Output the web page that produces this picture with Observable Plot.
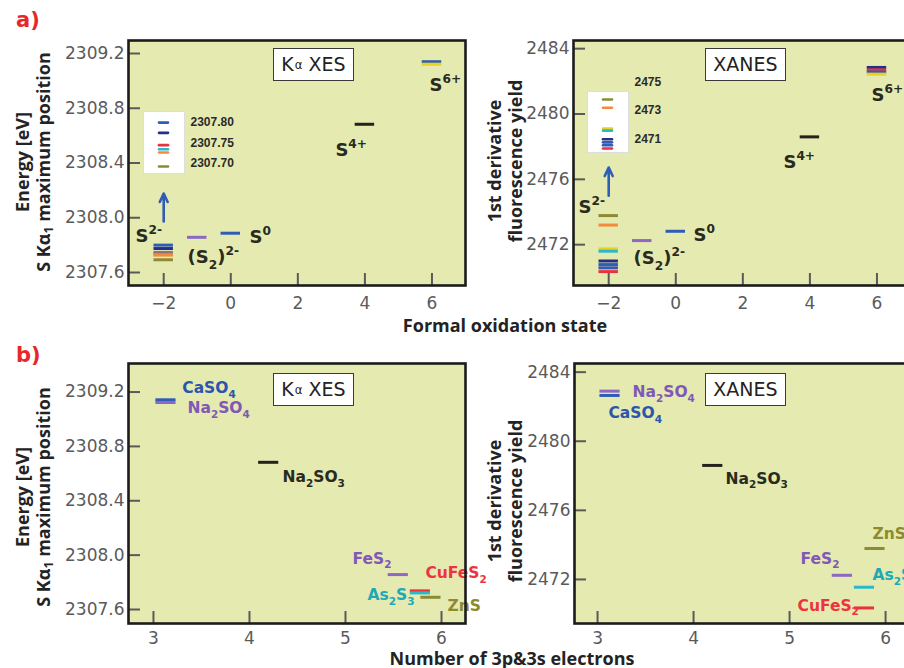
<!DOCTYPE html>
<html>
<head>
<meta charset="utf-8">
<script src="https://cdn.jsdelivr.net/npm/d3@7"></script>
<script src="https://cdn.jsdelivr.net/npm/@observablehq/plot@0.6"></script>
<style>
  html, body { margin: 0; padding: 0; background: #fff; overflow: hidden; }
  #fig { position: relative; width: 904px; height: 668px; overflow: hidden; background: #fff; }
  #fig svg { position: absolute; }
  .ttl { position: absolute; white-space: nowrap; font-family: "Open Sans", "DejaVu Sans", sans-serif; font-weight: 700; color: #232323; font-size: 18px; }
  .ttl sub { font-size: 68%; vertical-align: -0.25em; line-height: 0; }
  .box { position: absolute; box-sizing: border-box; background: #fff; border: 1.6px solid #3a3a3a;
         display: flex; align-items: center; justify-content: center;
         font-family: "DejaVu Sans", sans-serif; font-size: 19px; color: #222; line-height: 1; }
  .box sub { font-size: 62%; vertical-align: -0.35em; line-height: 0; margin-left: 1px; }
  .tag { position: absolute; font-family: "DejaVu Sans", sans-serif; font-weight: 700; font-size: 21px; color: #e8272a; }
</style>
</head>
<body>
<div id="fig"></div>
<script>
// ---------- data ----------
// a) Kα XES: formal oxidation state vs. S Kα1 maximum position (eV)
const xesOx     = [-2, -2, -2, -2, -2, -2, -1, 0, 4, 6, 6];
const xesEnergy = [2307.800, 2307.775, 2307.745, 2307.735, 2307.727, 2307.693, 2307.857, 2307.887, 2308.683, 2309.140, 2309.122];
const xesSample = ["blue", "navy", "red", "cyan", "orange", "olive", "purple", "blue", "black", "blue", "yellow"];

// a) XANES: formal oxidation state vs. 1st-derivative maximum (eV)
const xanesOx   = [-2, -2, -2, -2, -2, -2, -2, -2, -1, 0, 4, 6, 6, 6, 6];
const xanesEdge = [2473.78, 2473.20, 2471.74, 2471.60, 2471.00, 2470.78, 2470.58, 2470.35, 2472.25, 2472.82, 2478.60, 2482.85, 2482.70, 2482.57, 2482.44];
const xanesSample = ["olive", "orange", "yellow", "cyan", "navy", "blue", "blue", "red", "purple", "blue", "black", "navy", "red", "blue", "yellow"];

// b) reference compounds vs. number of 3p & 3s electrons
const compounds  = ["CaSO_4", "Na_2SO_4", "Na_2SO_3", "FeS_2", "CuFeS_2", "As_2S_3", "ZnS"];
const compoundKey = ["blue", "purple", "black", "purple", "red", "cyan", "olive"];
const electrons  = [3.13, 3.13, 4.20, 5.55, 5.78, 5.78, 5.89];
const xesB       = [2309.143, 2309.123, 2308.683, 2307.857, 2307.737, 2307.722, 2307.690];
const xanesB     = [2482.65, 2482.90, 2478.60, 2472.24, 2470.35, 2471.55, 2473.79];

// tick values
const oxTicks     = [-2, 0, 2, 4, 6];
const eTicks      = [3, 4, 5, 6];
const xesTicks    = [2307.6, 2308.0, 2308.4, 2308.8, 2309.2];
const xanesTicks  = [2472, 2476, 2480, 2484];
const xesInsetTicks   = [2307.70, 2307.75, 2307.80];
const xanesInsetTicks = [2471, 2473, 2475];

// oxidation-state labels (left edge, line centre)
const ionLabelsXes = [
  {text: "S^{2-}", x: -2.84, y: 2307.863},
  {text: "(S_2)^{2-}", x: -1.29, y: 2307.71},
  {text: "S^0", x: 0.56, y: 2307.856},
  {text: "S^{4+}", x: 3.12, y: 2308.49},
  {text: "S^{6+}", x: 5.93, y: 2308.966}
];
const ionLabelsXanes = [
  {text: "S^{2-}", x: -2.90, y: 2474.28},
  {text: "(S_2)^{2-}", x: -1.26, y: 2471.15},
  {text: "S^0", x: 0.53, y: 2472.56},
  {text: "S^{4+}", x: 3.21, y: 2477.03},
  {text: "S^{6+}", x: 5.84, y: 2481.13}
];
// compound name positions (left edge, line centre), same order as compounds
const nameXXes   = [3.30, 3.354, 4.344, 5.073, 5.833, 5.229, 6.062];
const nameYXes   = [2309.226, 2309.079, 2308.571, 2307.975, 2307.865, 2307.703, 2307.622];
const nameXXanes = [3.114, 3.364, 4.333, 5.114, 5.083, 5.864, 5.864];
const nameYXanes = [2481.61, 2482.82, 2477.84, 2473.21, 2470.49, 2472.23, 2474.60];

// arrows pointing from the S2- stack to its magnified view
const arrowXes   = [{x: -2, from: 2307.973, to: 2308.177}];
const arrowXanes = [{x: -2, from: 2475.00, to: 2476.72}];

// ---------- styling ----------
const BG = "#e5eab0";
const palette = {
  blue: "#2f5cb4", navy: "#252f88", red: "#e8323c", cyan: "#2cb8cc", orange: "#f28b3c",
  olive: "#8c8b34", purple: "#8c68c4", yellow: "#e8d21e", black: "#23231c"
};
const ink = {
  blue: "#2c55ad", purple: "#7f58b8", black: "#2a2a20", red: "#ee3340", cyan: "#1ea8b8", olive: "#8d8a30"
};
const TICK = "#5a5a5a";
const TICK_LEN = 12; // inward tick length, px

const fig = document.getElementById("fig");

function bars(xs, ys, keys, hw) {
  return xs.map((x, i) => ({x1: x - hw, x2: x + hw, y: ys[i], c: palette[keys[i]]}));
}

// turn "_x", "_{..}", "^x", "^{..}" into sub/superscript tspans
function richText(svg) {
  for (const el of svg.querySelectorAll("text")) {
    const src = el.textContent;
    if (!/[_^]/.test(src) || el.querySelector("tspan")) continue;
    const fs = parseFloat(getComputedStyle(el).fontSize);
    el.textContent = "";
    let off = 0;
    const re = /([_^])(?:\{([^}]*)\}|(.))|([^_^]+)/g;
    let m;
    while ((m = re.exec(src))) {
      const ts = document.createElementNS("http://www.w3.org/2000/svg", "tspan");
      let target;
      if (m[4] !== undefined) { target = 0; ts.textContent = m[4]; }
      else {
        target = m[1] === "_" ? 0.30 * fs : -0.48 * fs;
        ts.textContent = m[2] !== undefined ? m[2] : m[3];
        ts.setAttribute("font-size", (0.68 * fs).toFixed(1));
      }
      if (target - off !== 0) ts.setAttribute("dy", (target - off).toFixed(1));
      off = target;
      el.appendChild(ts);
    }
  }
}

function place(svg, left, top) {
  svg.style.left = left + "px";
  svg.style.top = top + "px";
  fig.appendChild(svg);
  richText(svg);
}

function panel(cfg) {
  const fw = cfg.width - cfg.ml - cfg.mr, fh = cfg.height - cfg.mt - cfg.mb;
  const [x0, x1] = cfg.xDomain, [y0, y1] = cfg.yDomain;
  // inward ticks along the left and bottom edges of the frame
  const yTickLen = TICK_LEN / fw * (x1 - x0);
  const xTickLen = TICK_LEN / fh * (y1 - y0);
  const svg = Plot.plot({
    width: cfg.width, height: cfg.height,
    marginLeft: cfg.ml, marginRight: cfg.mr, marginTop: cfg.mt, marginBottom: cfg.mb,
    style: {background: "transparent", overflow: "visible", fontFamily: "DejaVu Sans, sans-serif", fontSize: "17px", maxWidth: "none"},
    x: {domain: cfg.xDomain},
    y: {domain: cfg.yDomain},
    marks: [
      Plot.frame({fill: BG}),
      Plot.ruleY(cfg.yTicks, {y: d => d, x1: x0, x2: x0 + yTickLen, stroke: TICK, strokeWidth: 2}),
      Plot.ruleX(cfg.xTicks, {x: d => d, y1: y0, y2: y0 + xTickLen, stroke: TICK, strokeWidth: 2}),
      Plot.axisY({ticks: cfg.yTicks, tickSize: 0, tickPadding: 4, tickFormat: cfg.yFormat, label: null, color: TICK}),
      Plot.axisX({ticks: cfg.xTicks, tickSize: 0, tickPadding: cfg.xPad, tickFormat: cfg.xFormat, label: null, color: TICK}),
      ...(cfg.arrow ? [Plot.arrow(cfg.arrow, {x1: "x", x2: "x", y1: "from", y2: "to", stroke: palette.blue, strokeWidth: 2.6, headLength: 8, headAngle: 50})] : []),
      Plot.ruleY(cfg.bars, {y: "y", x1: "x1", x2: "x2", stroke: "c", strokeWidth: 3}),
      Plot.text(cfg.labels, {x: "x", y: "y", text: "text", fill: "fill", textAnchor: "start", lineAnchor: "middle",
        fontSize: cfg.labelSize, fontWeight: "bold", fontFamily: "DejaVu Sans, sans-serif"}),
      Plot.frame({stroke: "#1c1c1c", strokeWidth: 2.6})
    ]
  });
  place(svg, cfg.left, cfg.top);
}

function inset(cfg) {
  const svg = Plot.plot({
    width: cfg.width, height: cfg.height, marginLeft: 0, marginRight: cfg.width - 41, marginTop: 0, marginBottom: 0,
    style: {background: "transparent", overflow: "visible", fontFamily: "Liberation Sans, Arial, sans-serif", fontSize: "12px", fontWeight: "bold", maxWidth: "none"},
    x: {domain: [-2.5, -1.5], axis: null},
    y: {domain: cfg.yDomain, axis: null},
    marks: [
      Plot.frame({fill: "#fff", stroke: "#dedede", insetTop: cfg.insetTop || 0, insetBottom: cfg.insetBottom || 0}),
      Plot.ruleY(cfg.bars, {y: "y", x1: "x1", x2: "x2", stroke: "c", strokeWidth: 2.6, strokeLinecap: "round"}),
      Plot.axisY({anchor: "right", ticks: cfg.ticks, tickSize: 0, tickPadding: 6, tickFormat: cfg.format, label: null, color: "#2a2a2a"})
    ]
  });
  place(svg, cfg.left, cfg.top);
}

const ionFill = "#2a2a1e";
const withFill = (arr) => arr.map(d => ({...d, fill: ionFill}));
const names = (xs, ys) => compounds.map((t, i) => ({text: t, x: xs[i], y: ys[i], fill: ink[compoundKey[i]]}));

// a) Kα XES
panel({
  left: 0, top: 0, width: 470, height: 320, ml: 128, mr: 5, mt: 40, mb: 35,
  xDomain: [-3.05, 7.0], yDomain: [2307.505, 2309.295],
  xTicks: oxTicks, yTicks: xesTicks, yFormat: d3.format(".1f"), xFormat: d3.format("d"), xPad: 11,
  bars: bars(xesOx, xesEnergy, xesSample, 0.29),
  labels: withFill(ionLabelsXes), labelSize: 18, arrow: arrowXes
});
// a) XANES
panel({
  left: 450, top: 0, width: 470, height: 320, ml: 123, mr: 10, mt: 40, mb: 35,
  xDomain: [-3.05, 7.0], yDomain: [2469.5, 2484.5],
  xTicks: oxTicks, yTicks: xanesTicks, yFormat: d3.format("d"), xFormat: d3.format("d"), xPad: 11,
  bars: bars(xanesOx, xanesEdge, xanesSample, 0.29),
  labels: withFill(ionLabelsXanes), labelSize: 18, arrow: arrowXanes
});
// b) Kα XES
panel({
  left: 0, top: 330, width: 470, height: 330, ml: 128, mr: 5, mt: 33, mb: 37,
  xDomain: [2.74, 6.25], yDomain: [2307.497, 2309.41],
  xTicks: eTicks, yTicks: xesTicks, yFormat: d3.format(".1f"), xFormat: d3.format("d"), xPad: 8,
  bars: bars(electrons, xesB, compoundKey, 0.105),
  labels: names(nameXXes, nameYXes), labelSize: 15.5
});
// b) XANES
panel({
  left: 450, top: 330, width: 470, height: 330, ml: 124, mr: 9, mt: 33, mb: 37,
  xDomain: [2.76, 6.27], yDomain: [2469.45, 2484.5],
  xTicks: eTicks, yTicks: xanesTicks, yFormat: d3.format("d"), xFormat: d3.format("d"), xPad: 8,
  bars: bars(electrons, xanesB, compoundKey, 0.105),
  labels: names(nameXXanes, nameYXanes), labelSize: 15.5
});

// magnified views of the S2- stacks
const s2Xes = xesOx.map((x, i) => x === -2 ? i : -1).filter(i => i >= 0);
const s2Xanes = xanesOx.map((x, i) => x === -2 ? i : -1).filter(i => i >= 0);
inset({
  left: 143, top: 111, width: 101, height: 62,
  yDomain: [2307.676, 2307.827], ticks: xesInsetTicks, format: d3.format(".2f"),
  bars: bars(s2Xes.map(i => xesOx[i]), s2Xes.map(i => xesEnergy[i]), s2Xes.map(i => xesSample[i]), 0.11)
});
inset({
  left: 587, top: 78, width: 91, height: 87, insetTop: 13, insetBottom: 13,
  yDomain: [2469.16, 2475.25], ticks: xanesInsetTicks, format: d3.format("d"),
  bars: bars(s2Xanes.map(i => xanesOx[i]), s2Xanes.map(i => xanesEdge[i]), s2Xanes.map(i => xanesSample[i]), 0.11)
});

// ---------- text around the panels ----------
function html(cls, content, style) {
  const d = document.createElement("div");
  d.className = cls;
  d.innerHTML = content;
  Object.assign(d.style, style);
  fig.appendChild(d);
  return d;
}
const vTitle = (content, cx, cy) => html("ttl", content, {
  left: cx + "px", top: cy + "px", lineHeight: "21px", textAlign: "center",
  transform: "translate(-50%, -50%) rotate(-90deg)"
});
const hTitle = (content, cx, cy) => html("ttl", content, {
  left: cx + "px", top: cy + "px", transform: "translate(-50%, -50%)"
});

html("tag", "a)", {left: "16px", top: "8px"});
html("tag", "b)", {left: "16px", top: "343px"});

vTitle("Energy [eV]<br>S Kα<sub>1</sub> maximum position", 33, 162);
vTitle("1st derivative<br>fluorescence yield", 505, 161);
vTitle("Energy [eV]<br>S Kα<sub>1</sub> maximum position", 33, 497);
vTitle("1st derivative<br>fluorescence yield", 505, 501);

hTitle("Formal oxidation state", 505, 325);
hTitle("Number of 3p&amp;3s electrons", 512, 658);

const boxStyle = (l, t) => ({left: l + "px", top: t + "px", width: "81px", height: "33px"});
html("box", "K<sub>α</sub>&nbsp;XES", boxStyle(273, 48));
html("box", "XANES", boxStyle(705, 48));
html("box", "K<sub>α</sub>&nbsp;XES", boxStyle(273, 373));
html("box", "XANES", boxStyle(705, 373));
</script>
</body>
</html>
